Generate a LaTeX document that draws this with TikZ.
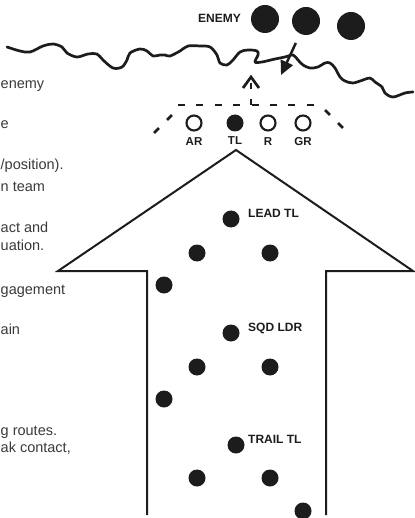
\documentclass[tikz,border=0pt]{standalone}
\usepackage{fontspec}
\setmainfont{Liberation Sans}
\usetikzlibrary{arrows.meta,positioning}
\definecolor{Ink}{HTML}{1C1C1C}
\definecolor{Prose}{HTML}{3A3A3A}

\tikzset{
  soldier/.style={circle,fill=Ink,inner sep=0pt,minimum size=17pt},
  rifle/.style={circle,draw=Ink,line width=2.1pt,fill=white,inner sep=0pt,minimum size=15pt},
  hostile/.style={circle,fill=Ink,inner sep=0pt,minimum size=28pt},
  tag/.style={text=Ink,font=\fontsize{12}{14}\selectfont\bfseries,inner sep=0pt},
  slot/.style={text=Ink,font=\fontsize{11.5}{13}\selectfont\bfseries,inner sep=0pt},
  prose/.style={text=Prose,font=\fontsize{14.5}{17}\selectfont,inner sep=0pt,anchor=base west},
  trace/.style={Ink,line width=2.7pt},
}

\begin{document}
\begin{tikzpicture}[x=1pt,y=-1pt]
    \useasboundingbox (0,0) rectangle (414,518);

    % cut-off text on the left
    \node[prose] (p1) at (0.5,89) {enemy};
    \node[prose] (p2) at (0.5,129) {e};
    \node[prose] (p3) at (0.5,170) {/position).};
    \node[prose] (p4) at (0.5,192) {n team};
    \node[prose] (p5) at (0.5,233) {act and};
    \node[prose] (p6) at (0.5,250) {uation.};
    \node[prose] (p7) at (0.5,294) {gagement};
    \node[prose] (p8) at (0.5,334) {ain};
    \node[prose] (p9) at (0.5,435) {g routes.};
    \node[prose] (p10) at (0.5,452) {ak contact,};

    % river line
    \draw[trace,line cap=round,line join=round] plot[smooth,tension=0.55] coordinates {
      (7,47) (20,51) (30,52) (43,46) (53,44) (62,47) (67,53) (77,57) (88,54) (97,54)
      (103,60) (113,68) (122,67) (127,60) (130,53) (140,49) (147,51) (153,56) (160,55)
      (165,55) (170,56) (180,51) (188,46) (200,46) (210,47) (217,55) (220,63) (227,65)
      (233,60) (240,52) (248,50) (257,51) (258,55) (255,62) (262,62) (275,59) (285,57)
      (293,55) (298,60) (303,65) (310,68) (318,67) (325,63) (330,63) (335,68) (340,77)
      (345,81) (353,83) (363,80) (370,78) (375,82) (382,87) (385,93) (393,97) (405,93) (413,92)};

    % enemy
    \node[hostile] (e1) at (265,19) {};
    \node[hostile] (e2) at (306,21) {};
    \node[hostile] (e3) at (351,26) {};
    \node[tag,anchor=east] (enemy) at (241,18.5) {ENEMY};
    \coordinate (hit) at (281,75);
    \draw[Ink,line width=2.5pt,shorten <=10pt,-{Triangle[length=14pt,width=13pt]}] (e2) -- (hit);

    % own direction
    \draw[trace,line join=miter] (243,88) -- (251,77) -- (259,88);
    \draw[trace,dash pattern=on 6pt off 10pt] (251,83) -- (251,105);

    % fire team front
    \draw[trace,dash pattern=on 7pt off 11.4pt] (178,105) -- (315,105);
    \draw[trace,dash pattern=on 7pt off 11.4pt] (154,133) -- (177,110);
    \draw[trace,dash pattern=on 7pt off 11.4pt] (325,110) -- (348,133);

    \node[rifle] (ar) at (194,123) {};
    \node[soldier] (tl) at (235,123) {};
    \node[rifle] (r) at (268,123) {};
    \node[rifle] (gr) at (303,123) {};
    \node[slot,below=6pt of ar] (arlbl) {AR};
    \node[slot,below=5pt of tl] (tllbl) {TL};
    \node[slot,below=6pt of r] (rlbl) {R};
    \node[slot,below=6pt of gr] (grlbl) {GR};

    % column arrow
    \draw[Ink,line width=2pt,line join=miter] (147,515) -- (147,271) -- (58,271) -- (236,150)
      -- (413,271) -- (326,271) -- (326,515);

    % squad in column
    \node[soldier] (lead) at (231,219) {};
    \node[soldier] (lead2) at (270,253) {};
    \node[soldier] (lead3) at (197,253) {};
    \node[soldier] (lead4) at (164,285) {};
    \node[tag,anchor=west] (leadlbl) at (248,213) {LEAD TL};

    \node[soldier] (sl) at (231,333) {};
    \node[soldier] (sl2) at (270,367) {};
    \node[soldier] (sl3) at (197,367) {};
    \node[soldier] (sl4) at (164,399) {};
    \node[tag,anchor=west] (sllbl) at (248,328) {SQD LDR};

    \node[soldier] (trail) at (236,445) {};
    \node[soldier] (trail2) at (270,478) {};
    \node[soldier] (trail3) at (197,478) {};
    \node[soldier] (trail4) at (303,511) {};
    \node[tag,anchor=west] (traillbl) at (248,439) {TRAIL TL};
\end{tikzpicture}
\end{document}
